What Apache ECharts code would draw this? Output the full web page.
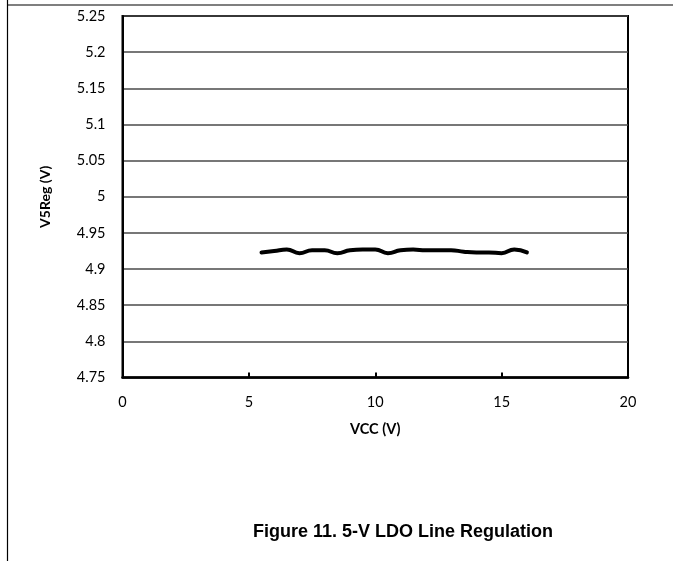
<!DOCTYPE html>
<html>
<head>
<meta charset="utf-8">
<script src="https://cdn.jsdelivr.net/npm/echarts@6/dist/echarts.min.js"></script>
<style>
html,body{margin:0;padding:0;background:#fff;}
#chart{width:673px;height:561px;}
</style>
</head>
<body>
<div id="chart"></div>
<script>
var vcc = [5.5, 6.0, 6.5, 7.0, 7.5, 8.0, 8.5, 9.0, 9.5, 10.0, 10.5, 11.0, 11.5, 12.0, 12.5, 13.0, 13.5, 14.0, 14.5, 15.0, 15.5, 16.0];
var v5reg = [4.923, 4.925, 4.927, 4.922, 4.926, 4.926, 4.922, 4.926, 4.927, 4.927, 4.922, 4.926, 4.927, 4.926, 4.926, 4.926, 4.924, 4.923, 4.923, 4.922, 4.927, 4.923];
var xTicks = [0, 5, 10, 15, 20];
var yTicks = [4.75, 4.8, 4.85, 4.9, 4.95, 5, 5.05, 5.1, 5.15, 5.2, 5.25];
var titleText = 'Figure 11. 5-V LDO Line Regulation';
var xName = 'VCC (V)';
var yName = 'V5Reg (V)';

var chart = echarts.init(document.getElementById('chart'));
var labelFont = 'Lato, "Open Sans", sans-serif';
chart.setOption({
  animation: false,
  backgroundColor: '#fff',
  title: {
    text: titleText,
    left: 398, top: 518, textAlign: 'center',
    textStyle: {fontFamily: '"Liberation Sans", Arial, sans-serif', fontWeight: 'bold', fontSize: 18, color: '#000'}
  },
  graphic: [
    {type: 'line', shape: {x1: 7, y1: 5, x2: 673, y2: 5}, style: {stroke: '#000', lineWidth: 1.2}},
    {type: 'line', shape: {x1: 7.5, y1: 0, x2: 7.5, y2: 561}, style: {stroke: '#000', lineWidth: 1.2}}
  ],
  grid: {left: 122.5, right: 45, top: 16, bottom: 183.5, show: true, borderColor: '#000', borderWidth: 2, backgroundColor: 'transparent'},
  xAxis: {
    type: 'value', min: 0, max: 20, interval: 5,
    name: xName, nameLocation: 'middle', nameGap: 44,
    nameTextStyle: {fontFamily: labelFont, fontWeight: 'bold', fontSize: 14.5, color: '#000'},
    axisLine: {show: true, lineStyle: {color: '#000', width: 2.5}},
    axisTick: {show: true, inside: true, length: 5, lineStyle: {color: '#000', width: 2}},
    axisLabel: {
      fontFamily: labelFont, fontSize: 14.5, color: '#000', margin: 17,
      formatter: function (v) { return xTicks.indexOf(v) >= 0 ? String(v) : ''; }
    },
    splitLine: {show: false}
  },
  yAxis: {
    type: 'value', min: 4.75, max: 5.25, interval: 0.05,
    name: yName, nameLocation: 'middle', nameGap: 70, nameRotate: 90,
    nameTextStyle: {fontFamily: labelFont, fontWeight: 'bold', fontSize: 14, color: '#000'},
    axisLine: {show: true, lineStyle: {color: '#000', width: 2}},
    axisTick: {show: false},
    axisLabel: {
      fontFamily: labelFont, fontSize: 14.5, color: '#000', margin: 17,
      formatter: function (v) {
        var r = Math.round(v * 100) / 100;
        return String(r);
      }
    },
    splitLine: {show: true, lineStyle: {color: '#4a4a4a', width: 1.6}}
  },
  series: [{
    type: 'line',
    data: vcc.map(function (x, i) { return [x, v5reg[i]]; }),
    smooth: 0.5,
    showSymbol: false,
    lineStyle: {color: '#000', width: 4, cap: 'round', join: 'round'}
  }]
});
</script>
</body>
</html>
